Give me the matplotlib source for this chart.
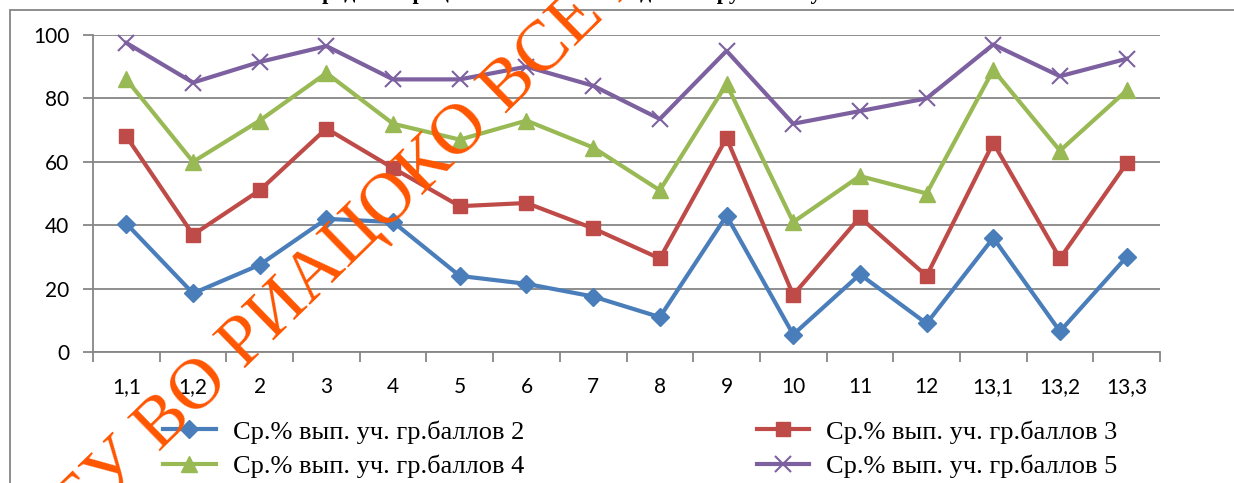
import matplotlib
matplotlib.use('Agg')
import matplotlib.pyplot as plt
from matplotlib.patches import Rectangle

# --- data ---
categories = ['1,1', '1,2', '2', '3', '4', '5', '6', '7', '8', '9', '10', '11', '12', '13,1', '13,2', '13,3']
ball_2 = [40.5, 18.5, 27.5, 42, 41, 24, 21.5, 17.5, 11, 43, 5.5, 24.5, 9, 36, 6.5, 30]
ball_3 = [68, 37, 51, 70.5, 58, 46, 47, 39, 29.5, 67.5, 18, 42.5, 24, 66, 29.5, 59.5]
ball_4 = [86, 60, 73, 88, 72, 67, 73, 64.5, 51, 84.5, 41, 55.5, 50, 89, 63.5, 82.5]
ball_5 = [97.5, 85, 91.5, 96.5, 86, 86, 90, 84, 73.5, 95, 72, 76, 80, 97, 87, 92.5]
y_ticks = [0, 20, 40, 60, 80, 100]

series = [
    ('Ср.% вып. уч. гр.баллов 2', ball_2, '#4A7EBB', 'D', 9),
    ('Ср.% вып. уч. гр.баллов 3', ball_3, '#BE4B48', 's', 10),
    ('Ср.% вып. уч. гр.баллов 4', ball_4, '#98B954', '^', 11),
    ('Ср.% вып. уч. гр.баллов 5', ball_5, '#7D60A0', 'x', 11),
]

W, H = 1234, 483
fig = plt.figure(figsize=(W / 100, H / 100), dpi=100)
fig.patch.set_facecolor('white')

# outer chart frame (only top/left inside the image)
fig.patches.append(Rectangle((10 / W, -0.2), 1.2, 1.2 - 10 / H, transform=fig.transFigure,
                             fill=False, edgecolor='#868686', linewidth=1.3, zorder=0))

ax = fig.add_axes([93 / W, 1 - 352 / H, (1160 - 93) / W, (352 - 35) / H])
x = list(range(len(categories)))

lines = {}
for label, vals, color, marker, ms in series:
    mew = 1.5 if marker == 'x' else 1
    ln, = ax.plot(x, vals, color=color, linewidth=3, marker=marker, markersize=ms,
                  markeredgewidth=mew, markeredgecolor=color, markerfacecolor=color,
                  label=label, zorder=3, clip_on=False)
    lines[label] = ln

ax.set_xlim(-0.5, len(categories) - 0.5)
ax.set_ylim(0, 100)
ax.set_yticks(y_ticks)
ax.set_xticks(x)
ax.set_xticklabels(categories)
ax.set_xticks([i - 0.5 for i in range(len(categories) + 1)], minor=True)
ax.tick_params(axis='x', which='major', length=0, pad=18)
ax.tick_params(axis='x', which='minor', length=7, width=1.3, color='#868686', direction='out')
ax.tick_params(axis='y', length=7, width=1.3, color='#868686', direction='out', pad=10)
for t in ax.get_xticklabels() + ax.get_yticklabels():
    t.set_fontfamily('Lato')
    t.set_fontsize(15)
ax.yaxis.grid(True, color='#868686', linewidth=1.3)
ax.set_axisbelow(True)
for s in ['top', 'right']:
    ax.spines[s].set_visible(False)
for s in ['left', 'bottom']:
    ax.spines[s].set_color('#868686')
    ax.spines[s].set_linewidth(1.3)

# legend: column 1 -> 2, 4 ; column 2 -> 3, 5
order = [series[0][0], series[2][0], series[1][0], series[3][0]]
leg = fig.legend([lines[k] for k in order], order, ncol=2, loc='upper left',
                 bbox_to_anchor=(163 / W, 1 - 420 / H), frameon=False,
                 prop={'family': 'Liberation Serif', 'size': 19},
                 handlelength=2.0, handletextpad=0.65, columnspacing=8.8,
                 labelspacing=0.42, borderpad=0, borderaxespad=0)

# title (cut off at the top of the image)
fig.text(0.5, 1 + 1 / H, 'Средний процент выполнения заданий группами участников',
         ha='center', va='baseline', fontfamily='Liberation Serif', fontweight='bold', fontsize=16)

# watermark
fig.text(52 / W, 1 - 557 / H, 'ГБУ ВО РИАЦОКО ВСЕ ПРАВА ЗАЩИЩЕНЫ', rotation=44.3,
         rotation_mode='anchor', ha='left', va='baseline', color='#FF5500',
         fontfamily='Liberation Serif', fontsize=52, zorder=10)

fig.savefig('out.png', dpi=100, facecolor='white')
